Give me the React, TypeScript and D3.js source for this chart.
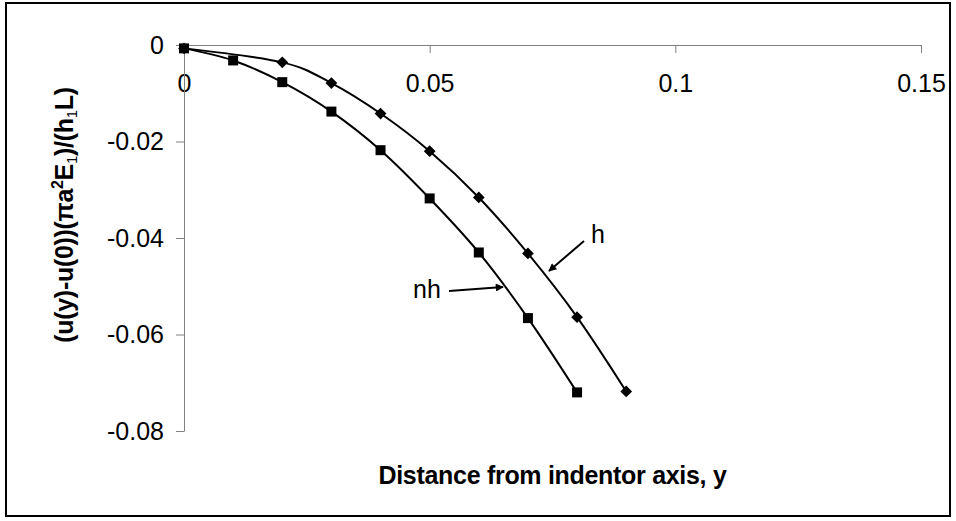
import React, { useEffect, useRef } from 'react';
import * as d3 from 'd3';

// data
const nhX = [0, 0.01, 0.02, 0.03, 0.04, 0.05, 0.06, 0.07, 0.08];
const nhY = [-0.0007, -0.0032, -0.0077, -0.0138, -0.0218, -0.0318, -0.043, -0.0566, -0.072];
const hX = [0, 0.02, 0.03, 0.04, 0.05, 0.06, 0.07, 0.08, 0.09];
const hY = [-0.0007, -0.0036, -0.0079, -0.0142, -0.022, -0.0316, -0.0432, -0.0564, -0.0718];

const xTicks = [0, 0.05, 0.1, 0.15];
const yTicks = [0, -0.02, -0.04, -0.06, -0.08];

const W = 956;
const H = 521;
const FONT = '"Liberation Sans", Arial, sans-serif';

const App = () => {
  const svgRef = useRef<SVGSVGElement>(null);

  useEffect(() => {
    const svg = d3.select(svgRef.current);
    svg.selectAll('*').remove();

    // chart frame
    svg.append('rect')
      .attr('x', 6).attr('y', 3)
      .attr('width', 944).attr('height', 513)
      .attr('fill', 'white')
      .attr('stroke', 'black')
      .attr('stroke-width', 2);

    const x = d3.scaleLinear().domain([0, 0.15]).range([184, 921]);
    const y = d3.scaleLinear().domain([0, -0.08]).range([45, 431]);

    const fmt = (d: any) => String(d);

    // x axis sits on y = 0 (top)
    const gx = svg.append('g')
      .attr('transform', `translate(0,${y(0)})`)
      .call(d3.axisBottom(x).tickValues(xTicks).tickFormat(fmt).tickSize(8).tickSizeOuter(0).tickPadding(21));
    gx.selectAll('path, line').attr('stroke', '#808080');
    gx.selectAll('text').attr('fill', 'black').style('font-family', FONT).style('font-size', '25px');

    const gy = svg.append('g')
      .attr('transform', `translate(${x(0)},0)`)
      .call(d3.axisLeft(y).tickValues(yTicks).tickFormat(fmt).tickSize(8).tickSizeOuter(0).tickPadding(12));
    gy.selectAll('path, line').attr('stroke', '#808080');
    gy.selectAll('text').attr('fill', 'black').style('font-family', FONT).style('font-size', '25px');

    // curves with markers
    const series = [
      { xs: nhX, ys: nhY, shape: 'square' },
      { xs: hX, ys: hY, shape: 'diamond' },
    ];

    series.forEach(s => {
      const pts: [number, number][] = s.xs.map((v, i) => [x(v), y(s.ys[i])]);
      svg.append('path')
        .attr('d', d3.line().curve(d3.curveCardinal)(pts))
        .attr('fill', 'none')
        .attr('stroke', 'black')
        .attr('stroke-width', 2);

      const sym = s.shape === 'square'
        ? d3.symbol().type(d3.symbolSquare).size(100)
        : d3.symbol().type(d3.symbolDiamond2).size(88);
      svg.selectAll(null)
        .data(pts)
        .enter().append('path')
        .attr('transform', d => `translate(${d[0]},${d[1]})`)
        .attr('d', sym)
        .attr('fill', 'black');
    });

    // arrow labels
    svg.append('defs').append('marker')
      .attr('id', 'arr')
      .attr('viewBox', '0 0 10 10')
      .attr('refX', 9).attr('refY', 5)
      .attr('markerWidth', 10).attr('markerHeight', 8)
      .attr('markerUnits', 'userSpaceOnUse')
      .attr('orient', 'auto')
      .append('path')
      .attr('d', 'M0,0L10,5L0,10Z')
      .attr('fill', 'black');

    svg.append('line')
      .attr('x1', 584).attr('y1', 241).attr('x2', 549).attr('y2', 271)
      .attr('stroke', 'black').attr('stroke-width', 2)
      .attr('marker-end', 'url(#arr)');
    svg.append('text')
      .attr('x', 591).attr('y', 243)
      .style('font-family', FONT).style('font-size', '25px')
      .text('h');

    svg.append('line')
      .attr('x1', 449).attr('y1', 291).attr('x2', 503).attr('y2', 287)
      .attr('stroke', 'black').attr('stroke-width', 2)
      .attr('marker-end', 'url(#arr)');
    svg.append('text')
      .attr('x', 413).attr('y', 298)
      .style('font-family', FONT).style('font-size', '25px')
      .text('nh');

    // axis titles
    svg.append('text')
      .attr('x', (x(0) + x(0.15)) / 2)
      .attr('y', 484)
      .attr('text-anchor', 'middle')
      .style('font-family', FONT).style('font-size', '25px').style('font-weight', 'bold')
      .style('letter-spacing', '-0.3px')
      .text('Distance from indentor axis, y');

    const yt = svg.append('text')
      .attr('transform', 'translate(73,215) rotate(-90)')
      .attr('text-anchor', 'middle')
      .style('font-family', FONT).style('font-size', '25px').style('font-weight', 'bold')
      .style('letter-spacing', '-0.3px');
    yt.append('tspan').text('(u(y)-u(0))(πa');
    yt.append('tspan').attr('dy', -10).style('font-size', '16px').text('2');
    yt.append('tspan').attr('dy', 10).text('E');
    yt.append('tspan').attr('dy', 4).style('font-size', '15px').style('font-weight', 'normal').text('1');
    yt.append('tspan').attr('dy', -4).text(')/(h');
    yt.append('tspan').attr('dy', 4).style('font-size', '15px').style('font-weight', 'normal').text('1');
    yt.append('tspan').attr('dy', -4).text('L)');
  }, []);

  return (
    <svg ref={svgRef} width={W} height={H}
      style={{ position: 'absolute', left: 0, top: 0, background: 'white' }} />
  );
};

export default App;
